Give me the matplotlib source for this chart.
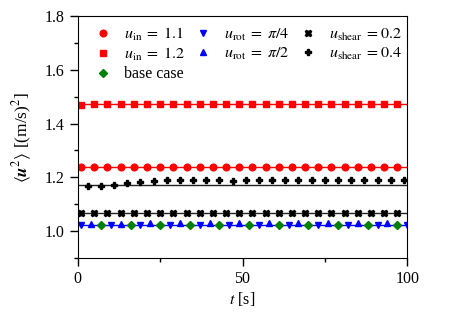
import numpy as np
from matplotlib import pyplot as plt

plt.rcParams['font.family'] = ['Liberation Serif', 'DejaVu Serif']
plt.rcParams['mathtext.fontset'] = 'stix'
plt.rcParams['font.size'] = 11.5

# time samples
t_a = np.arange(1, 98, 4)       # u_in, shear 0.2
t_b = np.arange(3, 100, 4)      # shear 0.4
t_down = np.arange(1, 101, 9)   # rot pi/4
t_up = np.arange(4, 101, 9)     # rot pi/2
t_base = np.arange(7, 101, 9)   # base case

u_in_11 = [1.237, 1.237, 1.238, 1.237, 1.238, 1.237, 1.238, 1.237, 1.238, 1.237, 1.238, 1.237, 1.238,
           1.238, 1.237, 1.238, 1.237, 1.237, 1.238, 1.237, 1.238, 1.237, 1.237, 1.238, 1.237]
u_in_12 = [1.470, 1.471, 1.471, 1.471, 1.471, 1.473, 1.472, 1.474, 1.473, 1.474, 1.473, 1.474, 1.474,
           1.474, 1.473, 1.473, 1.473, 1.473, 1.472, 1.473, 1.472, 1.473, 1.472, 1.472, 1.472]
shear_02 = [1.066, 1.067, 1.067, 1.067, 1.067, 1.067, 1.067, 1.067, 1.067, 1.067, 1.067, 1.067, 1.067,
            1.067, 1.067, 1.067, 1.067, 1.067, 1.067, 1.067, 1.067, 1.067, 1.067, 1.067, 1.067]
shear_04 = [1.166, 1.168, 1.171, 1.179, 1.183, 1.186, 1.189, 1.189, 1.189, 1.189, 1.189, 1.188, 1.189,
            1.189, 1.190, 1.189, 1.189, 1.190, 1.189, 1.189, 1.190, 1.189, 1.189, 1.190, 1.190]
rot_45 = [1.021, 1.022, 1.022, 1.023, 1.022, 1.022, 1.022, 1.022, 1.022, 1.022, 1.022, 1.022]
rot_90 = [1.027, 1.028, 1.030, 1.031, 1.030, 1.030, 1.031, 1.030, 1.031, 1.031, 1.030]
base = [1.022, 1.022, 1.022, 1.022, 1.022, 1.022, 1.022, 1.022, 1.022, 1.022, 1.022]

# reference levels
ref_red = [1.471, 1.237]
ref_black = [1.171, 1.066]
ref_blue = 1.021

fig = plt.figure(figsize=(4.58, 3.22), dpi=100)
ax = fig.add_axes([0.170, 0.199, 0.719, 0.751])

for r in ref_red:
    ax.axhline(r, color='red', lw=1.0, zorder=1)
for r in ref_black:
    ax.axhline(r, color='#222222', lw=1.0, zorder=1)
ax.axhline(ref_blue, color='blue', lw=1.0, zorder=1)

ms = 4.8
ax.plot(t_a, u_in_11, 'o', color='red', ms=ms, ls='none', label=r'$u_{\rm in}\;=\;1.1$')
ax.plot(t_a, u_in_12, 's', color='red', ms=ms, ls='none', label=r'$u_{\rm in}\;=\;1.2$')
ax.plot(t_base, base, 'D', color='green', ms=ms - 0.5, ls='none', label='base case')
ax.plot(t_down, rot_45, 'v', color='blue', ms=ms, ls='none', label=r'$u_{\rm rot}\;=\;\pi/4$')
ax.plot(t_up, rot_90, '^', color='blue', ms=ms, ls='none', label=r'$u_{\rm rot}\;=\;\pi/2$')
ax.plot(t_a, shear_02, 'X', color='black', ms=ms, ls='none', label=r'$u_{\rm shear}\;=0.2$')
ax.plot(t_b, shear_04, 'P', color='black', ms=ms, ls='none', label=r'$u_{\rm shear}\;=0.4$')

h, l = ax.get_legend_handles_labels()
blank = plt.Line2D([], [], ls='none')
order = [h[0], h[1], h[2], h[3], h[4], blank, h[5], h[6], blank]
labs = [l[0], l[1], l[2], l[3], l[4], '', l[5], l[6], '']
ax.legend(order, labs, ncol=3, loc='upper left', frameon=False, fontsize=11.5,
          handletextpad=0.3, columnspacing=0.15, labelspacing=0.2,
          bbox_to_anchor=(-0.015, 1.02))

ax.set_xlim(0, 100)
ax.set_ylim(0.9, 1.8)
ax.set_xticks([0, 50, 100])
ax.set_xticks([25, 75], minor=True)
ax.set_yticks([1.0, 1.2, 1.4, 1.6, 1.8])
ax.set_yticks(np.arange(0.9, 1.8, 0.2), minor=True)
ax.tick_params(which='major', direction='out', length=6, width=1)
ax.tick_params(which='minor', direction='out', length=3, width=1)
ax.set_xlabel(r'$t$ [s]', labelpad=2)
ax.set_ylabel(r'$\langle \mathbfit{u}^2 \rangle$ [(m/s)$^2$]', fontsize=12.5, labelpad=8)

fig.savefig('out.png', dpi=100)
